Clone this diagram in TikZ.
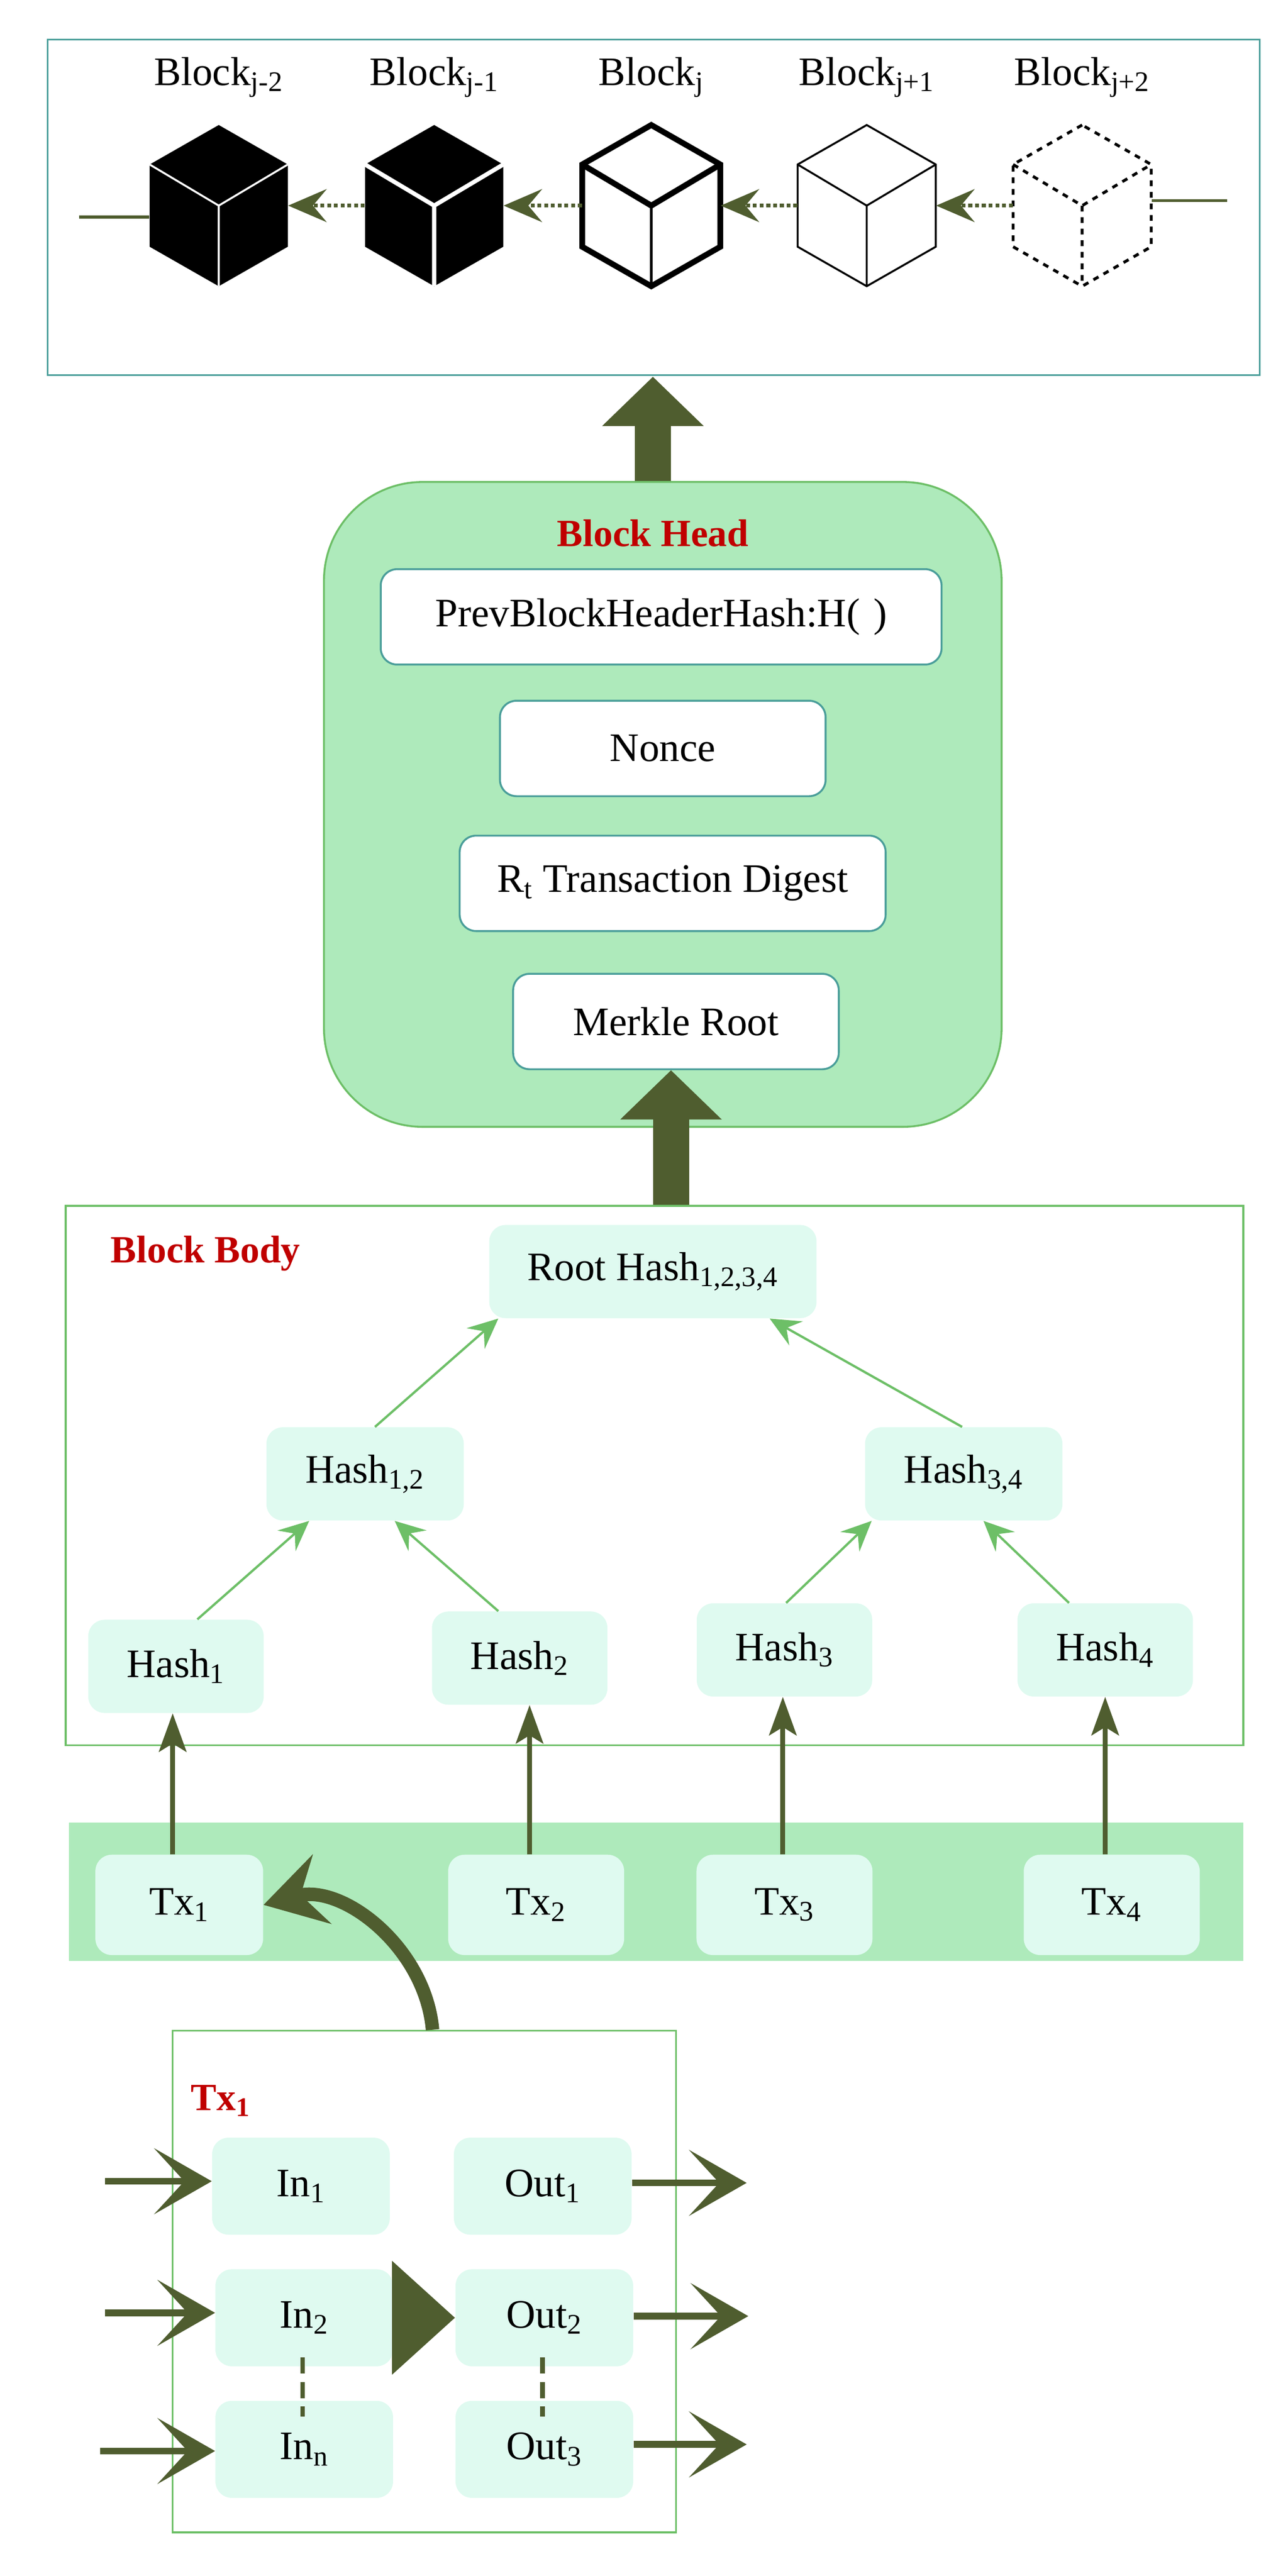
\documentclass[tikz,border=0pt]{standalone}
\usepackage{fontspec}
\setmainfont{Liberation Serif}
\usetikzlibrary{arrows.meta,positioning}
\definecolor{olivec}{HTML}{4F5D2F}
\definecolor{mintc}{HTML}{DFFAF0}
\definecolor{bandc}{HTML}{AEEABB}
\definecolor{greenc}{HTML}{6DBF67}
\definecolor{tealc}{HTML}{4A9E9A}
\definecolor{redc}{HTML}{C00000}
\newcommand{\fs}{\fontsize{21}{24}\selectfont}
\tikzset{
  mint/.style={fill=mintc, rounded corners=0.3cm, minimum width=3.2cm, minimum height=1.7cm, inner sep=0pt, font=\fs},
  headitem/.style={draw=tealc, line width=1pt, fill=white, rounded corners=0.3cm, minimum height=1.74cm, inner sep=0pt, font=\fs},
  redtitle/.style={text=redc, font=\fontsize{20}{24}\selectfont\bfseries},
  blocklabel/.style={font=\fs},
  cubebox/.style={minimum width=2.52cm, minimum height=2.94cm, inner sep=0pt},
  chain/.style={olivec, line width=2pt, dash pattern=on 2pt off 1.5pt, -{Stealth[length=0.7cm,width=0.6cm,inset=0.25cm]}},
  treearrow/.style={greenc, line width=1.2pt, -{Stealth[length=0.55cm,width=0.5cm,inset=0.2cm]}},
  txarrow/.style={olivec, line width=2.5pt, -{Stealth[length=0.7cm,width=0.5cm,inset=0.15cm]}},
  ioarrow/.style={olivec, line width=3.5pt, -{Stealth[length=1.05cm,width=1.2cm,inset=0.55cm]}},
  bigarrow/.style={olivec, line width=0.66cm, -{Triangle[length=0.9cm,width=1.8cm]}},
}
\newcommand{\hexpath}{(0,-49) -- (-42,-25) -- (-42,25) -- (0,49) -- (42,25) -- (42,-25) -- cycle}
\newcommand{\ypath}{(-42,-25) -- (0,0) -- (42,-25) (0,0) -- (0,49)}
\begin{document}
\begin{tikzpicture}[x=0.03cm,y=-0.03cm]
  \useasboundingbox (0,0) rectangle (783,1566);
  % chain of blocks
  \draw[tealc, line width=1pt] (29,24) rectangle (766,228);
  \foreach \n/\x/\lab in {1/133/{j-2},2/264/{j-1},3/396/{j},4/527/{j+1},5/658/{j+2}} {
    \node[cubebox] (c\n) at (\x,125) {};
    \node[blocklabel] (l\n) at (\x,47) {Block\textsubscript{\lab}};
  }
  \begin{scope}[shift={(133,125)}]
    \fill[black] \hexpath; \draw[white, line width=1pt] \ypath;
  \end{scope}
  \begin{scope}[shift={(264,125)}]
    \fill[black] \hexpath; \draw[white, line width=2.2pt] \ypath;
  \end{scope}
  \begin{scope}[shift={(396,125)}]
    \draw[line width=3pt, line join=miter] \hexpath;
    \draw[line width=3pt] (-42,-25) -- (0,0) -- (42,-25); \draw[line width=1.5pt] (0,0) -- (0,49);
  \end{scope}
  \begin{scope}[shift={(527,125)}]
    \draw[line width=1pt] \hexpath; \draw[line width=1pt] \ypath;
  \end{scope}
  \begin{scope}[shift={(658,125)}]
    \draw[line width=1.5pt, dashed] \hexpath; \draw[line width=1.5pt, dashed] \ypath;
  \end{scope}
  \coordinate (chainL) at (48,132);
  \coordinate (chainR) at (746,122);
  \draw[olivec, line width=1.5pt] (chainL) -- (c1.west |- chainL);
  \draw[olivec, line width=1.5pt] (c5.east |- chainR) -- (chainR);
  \foreach \a/\b in {2/1,3/2,4/3,5/4}
    \draw[chain] (c\a.west) -- (c\b.east);
  % block head
  \node[draw=greenc, line width=1pt, fill=bandc, rounded corners=1.8cm, minimum width=12.36cm, minimum height=11.76cm] (head) at (403,489) {};
  \node[redtitle] (headtitle) at (397,324) {Block Head};
  \node[headitem, minimum width=10.23cm] (prev) at (402,375) {PrevBlockHeaderHash:H(\,\,)};
  \node[headitem, minimum width=5.94cm] (nonce) at (403,455) {Nonce};
  \node[headitem, minimum width=7.77cm] (digest) at (409,537) {R\textsubscript{t} Transaction Digest};
  \node[headitem, minimum width=5.94cm] (merkle) at (411,621) {Merkle Root};
  \draw[bigarrow] (head.north -| 397,0) -- (397,229);
  % block body
  \node[draw=greenc, line width=1pt, minimum width=21.48cm, minimum height=9.84cm] (body) at (398,897) {};
  \node[redtitle] (bodytitle) at (125,762) {Block Body};
  \draw[bigarrow] (body.north -| 408,0) -- (merkle.south -| 408,0);
  \node[mint, minimum width=5.97cm] (root) at (397,773) {Root Hash\textsubscript{1,2,3,4}};
  \node[mint, minimum width=3.6cm] (h12) at (222,896) {Hash\textsubscript{1,2}};
  \node[mint, minimum width=3.6cm] (h34) at (586,896) {Hash\textsubscript{3,4}};
  \node[mint] (h1) at (107,1013) {Hash\textsubscript{1}};
  \node[mint] (h2) at (316,1008) {Hash\textsubscript{2}};
  \node[mint] (h3) at (477,1003) {Hash\textsubscript{3}};
  \node[mint] (h4) at (672,1003) {Hash\textsubscript{4}};
  \draw[treearrow] (h1.north -| 120,0) -- (h12.south -| 188,0);
  \draw[treearrow] (h2.north -| 303,0) -- (h12.south -| 240,0);
  \draw[treearrow] (h3.north -| 478,0) -- (h34.south -| 530,0);
  \draw[treearrow] (h4.north -| 650,0) -- (h34.south -| 598,0);
  \draw[treearrow] (h12.north -| 228,0) -- (root.south -| 303,0);
  \draw[treearrow] (h34.north -| 585,0) -- (root.south -| 468,0);
  % transactions
  \node[fill=bandc, minimum width=21.42cm, minimum height=2.52cm] (band) at (399,1150) {};
  \node[mint, minimum width=3.06cm, minimum height=1.83cm] (tx1) at (109,1158) {Tx\textsubscript{1}};
  \node[mint, minimum width=3.21cm, minimum height=1.83cm] (tx2) at (326,1158) {Tx\textsubscript{2}};
  \node[mint, minimum width=3.21cm, minimum height=1.83cm] (tx3) at (477,1158) {Tx\textsubscript{3}};
  \node[mint, minimum width=3.21cm, minimum height=1.83cm] (tx4) at (676,1158) {Tx\textsubscript{4}};
  \draw[txarrow] (tx1.north -| 105,0) -- (h1.south -| 105,0);
  \draw[txarrow] (tx2.north -| 322,0) -- (h2.south -| 322,0);
  \draw[txarrow] (tx3.north -| 476,0) -- (h3.south -| 476,0);
  \draw[txarrow] (tx4.north -| 672,0) -- (h4.south -| 672,0);
  % transaction detail
  \node[draw=greenc, line width=1pt, minimum width=9.18cm, minimum height=9.15cm] (txbox) at (258,1387) {};
  \node[redtitle, anchor=west] (txtitle) at (112,1277) {Tx\textsubscript{1}};
  \draw[olivec, line width=7pt, -{Stealth[length=1.1cm,width=1.3cm,inset=0.4cm]}]
    (txbox.north -| 263,0) to[out=95,in=15] (tx1.east);
  \node[mint, minimum width=3.24cm, minimum height=1.77cm] (in1) at (183,1329) {In\textsubscript{1}};
  \node[mint, minimum width=3.24cm, minimum height=1.77cm] (in2) at (185,1409) {In\textsubscript{2}};
  \node[mint, minimum width=3.24cm, minimum height=1.77cm] (inn) at (185,1489) {In\textsubscript{n}};
  \node[mint, minimum width=3.24cm, minimum height=1.77cm] (out1) at (330,1329) {Out\textsubscript{1}};
  \node[mint, minimum width=3.24cm, minimum height=1.77cm] (out2) at (331,1409) {Out\textsubscript{2}};
  \node[mint, minimum width=3.24cm, minimum height=1.77cm] (out3) at (331,1489) {Out\textsubscript{3}};
  \coordinate (src1) at (64,1326);
  \coordinate (src2) at (64,1406);
  \coordinate (src3) at (61,1490);
  \coordinate (dst1) at (454,1327);
  \coordinate (dst2) at (455,1408);
  \coordinate (dst3) at (454,1486);
  \draw[ioarrow] (src1) -- (in1.west |- src1);
  \draw[ioarrow] (src2) -- (in2.west |- src2);
  \draw[ioarrow] (src3) -- (inn.west |- src3);
  \draw[ioarrow] (out1.east |- dst1) -- (dst1);
  \draw[ioarrow] (out2.east |- dst2) -- (dst2);
  \draw[ioarrow] (out3.east |- dst3) -- (dst3);
  \draw[olivec, line width=0.8cm, -{Triangle[length=1.15cm,width=2cm]}] (in2.east) -- (out2.west);
  \draw[olivec, line width=2.5pt, dash pattern=on 0.3cm off 0.15cm] (184,1433) -- (184,1469);
  \draw[olivec, line width=2.5pt, dash pattern=on 0.3cm off 0.15cm] (330,1433) -- (330,1469);
\end{tikzpicture}
\end{document}
